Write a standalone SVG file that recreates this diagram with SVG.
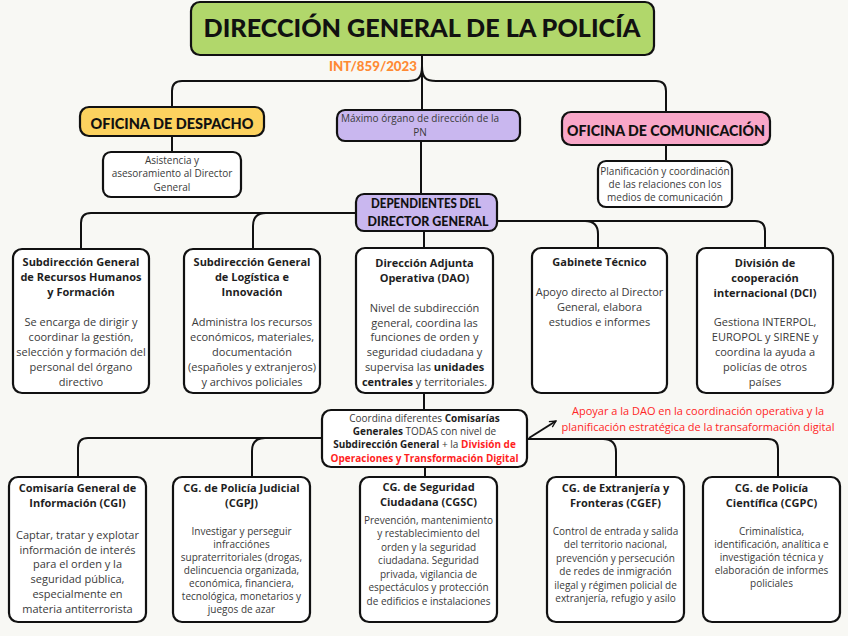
<svg xmlns="http://www.w3.org/2000/svg" width="848" height="636" viewBox="0 0 848 636">
<defs>
<marker id="arr" viewBox="0 0 10 10" refX="9" refY="5" markerWidth="8" markerHeight="8" markerUnits="userSpaceOnUse" orient="auto">
<path d="M1,1 L9,5 L1,9" fill="none" stroke="#111" stroke-width="1.6"/>
</marker>
</defs>
<style>
.box{stroke:#111;stroke-width:2.2}
.wb{fill:#fff;stroke:#111;stroke-width:2.2}
.con{fill:none;stroke:#111;stroke-width:2}
.hd{font-family:Lato,"Liberation Sans",sans-serif;font-weight:900;fill:#111;text-anchor:middle}
.t{font-family:"Open Sans","Noto Sans",sans-serif;font-weight:bold;font-size:11px;fill:#1e1e1e;text-anchor:middle}
.b{font-family:"Open Sans","Noto Sans",sans-serif;font-size:11px;fill:#3a3a3a;text-anchor:middle}
.s{font-family:"Open Sans","Noto Sans",sans-serif;font-size:10px;fill:#3a3a3a;text-anchor:middle}
.bold{font-weight:bold;fill:#1e1e1e}
.red{font-weight:bold;fill:#ff1f1f}
.ann{font-family:"Open Sans","Noto Sans",sans-serif;font-size:11px;fill:#ff2626;text-anchor:middle}
</style>
<rect width="848" height="636" fill="#f8f8f4"/>

<g id="connectors">
<path class="con" d="M422,55 V110"/>
<path class="con" d="M422,66 C422,78 418,81 408,81 H182 Q172,81 172,91 V107"/>
<path class="con" d="M422,66 C422,78 426,81 436,81 H656 Q666,81 666,91 V112"/>
<path class="con" d="M172,136 V152"/>
<path class="con" d="M666,145 V161"/>
<path class="con" d="M421,141 V194"/>
<path class="con" d="M356,213 H91 Q81,213 81,223 V249"/>
<path class="con" d="M266,213 Q253,213 253,226 V249"/>
<path class="con" d="M497,221 H755 Q765,221 765,231 V248"/>
<path class="con" d="M585,221 Q598,221 598,234 V248"/>
<path class="con" d="M424,231 V248"/>
<path class="con" d="M424,393 V410"/>
<path class="con" d="M322,438 H88 Q78,438 78,448 V477"/>
<path class="con" d="M265,438 Q252,438 252,451 V477"/>
<path class="con" d="M527,439 H768 Q778,439 778,449 V477"/>
<path class="con" d="M603,439 Q616,439 616,452 V477"/>
<path class="con" d="M425,467 V477"/>
<path class="con" d="M529,438 L556,421" marker-end="url(#arr)"/>
</g>

<g id="title">
<rect class="box" x="191" y="2" width="463" height="53" rx="9" fill="#b1d76b"/>
<text class="hd" x="422" y="37" font-size="25" textLength="437" lengthAdjust="spacingAndGlyphs">DIRECCIÓN GENERAL DE LA POLICÍA</text>
</g>
<g id="ref">
<text x="373" y="71" font-family="Lato,'Liberation Sans',sans-serif" font-weight="900" font-size="13" fill="#ff8a33" text-anchor="middle" textLength="88" lengthAdjust="spacingAndGlyphs">INT/859/2023</text>
</g>

<g id="despacho">
<rect class="box" x="80" y="107" width="184" height="29" rx="9" fill="#fcd25f"/>
<text class="hd" x="172" y="129" font-size="15.5" textLength="163" lengthAdjust="spacingAndGlyphs">OFICINA DE DESPACHO</text>
</g>
<g id="asistencia">
<rect class="wb" x="103" y="152" width="138" height="45" rx="8"/>
<text class="s"><tspan x="172" y="163.5">Asistencia y</tspan><tspan x="172" y="177">asesoramiento al Director</tspan><tspan x="172" y="190.5">General</tspan></text>
</g>

<g id="maximo">
<rect class="box" x="337" y="110" width="183" height="31" rx="8" fill="#c9b7ef"/>
<text class="s"><tspan x="420" y="122">Máximo órgano de dirección de la</tspan><tspan x="420" y="135.5">PN</tspan></text>
</g>

<g id="comunicacion">
<rect class="box" x="562" y="112" width="208" height="33" rx="9" fill="#f9a7c8"/>
<text class="hd" x="666" y="136" font-size="15.5" textLength="198" lengthAdjust="spacingAndGlyphs">OFICINA DE COMUNICACIÓN</text>
</g>
<g id="planificacion">
<rect class="wb" x="598" y="161" width="134" height="46" rx="8"/>
<text class="s"><tspan x="665" y="174.5">Planificación y coordinación</tspan><tspan x="665" y="188">de las relaciones con los</tspan><tspan x="665" y="201">medios de comunicación</tspan></text>
</g>

<g id="dependientes">
<rect class="box" x="356" y="194" width="141" height="37" rx="8" fill="#c9b7ef"/>
<text class="hd" font-size="13"><tspan x="426" y="207.5" textLength="110" lengthAdjust="spacingAndGlyphs">DEPENDIENTES DEL</tspan><tspan x="428" y="226" textLength="121" lengthAdjust="spacingAndGlyphs">DIRECTOR GENERAL</tspan></text>
</g>

<g id="sg-rrhh">
<rect class="wb" x="13" y="249" width="136" height="144" rx="9"/>
<text class="t"><tspan x="81" y="265.5">Subdirección General</tspan><tspan x="81" y="280.5">de Recursos Humanos</tspan><tspan x="81" y="295.5">y Formación</tspan></text>
<text class="b"><tspan x="81" y="326">Se encarga de dirigir y</tspan><tspan x="81" y="341">coordinar la gestión,</tspan><tspan x="81" y="356">selección y formación del</tspan><tspan x="81" y="371">personal del órgano</tspan><tspan x="81" y="386">directivo</tspan></text>
</g>

<g id="sg-logistica">
<rect class="wb" x="184" y="249" width="136" height="144" rx="9"/>
<text class="t"><tspan x="252" y="265.5">Subdirección General</tspan><tspan x="252" y="280.5">de Logística e</tspan><tspan x="252" y="295.5">Innovación</tspan></text>
<text class="b"><tspan x="252" y="326">Administra los recursos</tspan><tspan x="252" y="341">económicos, materiales,</tspan><tspan x="252" y="356">documentación</tspan><tspan x="252" y="371">(españoles y extranjeros)</tspan><tspan x="252" y="386">y archivos policiales</tspan></text>
</g>

<g id="dao">
<rect class="wb" x="356" y="248" width="137" height="145" rx="9"/>
<text class="t"><tspan x="424.5" y="267">Dirección Adjunta</tspan><tspan x="424.5" y="282">Operativa (DAO)</tspan></text>
<text class="b"><tspan x="424.5" y="312">Nivel de subdirección</tspan><tspan x="424.5" y="326.7">general, coordina las</tspan><tspan x="424.5" y="341.4">funciones de orden y</tspan><tspan x="424.5" y="356.1">seguridad ciudadana y</tspan><tspan x="424.5" y="370.8">supervisa las <tspan class="bold">unidades</tspan></tspan><tspan x="424.5" y="385.5"><tspan class="bold">centrales</tspan> y territoriales.</tspan></text>
</g>

<g id="gabinete">
<rect class="wb" x="532" y="248" width="135" height="145" rx="9"/>
<text class="t"><tspan x="599.5" y="265.5">Gabinete Técnico</tspan></text>
<text class="b"><tspan x="599.5" y="295.5">Apoyo directo al Director</tspan><tspan x="599.5" y="310.5">General, elabora</tspan><tspan x="599.5" y="325.5">estudios e informes</tspan></text>
</g>

<g id="dci">
<rect class="wb" x="697" y="248" width="136" height="145" rx="9"/>
<text class="t"><tspan x="765" y="267">División de</tspan><tspan x="765" y="282">cooperación</tspan><tspan x="765" y="297">internacional (DCI)</tspan></text>
<text class="b"><tspan x="765" y="325.5">Gestiona INTERPOL,</tspan><tspan x="765" y="340.5">EUROPOL y SIRENE y</tspan><tspan x="765" y="355.5">coordina la ayuda a</tspan><tspan x="765" y="370.5">policías de otros</tspan><tspan x="765" y="385.5">países</tspan></text>
</g>

<g id="coordina">
<rect class="wb" x="322" y="410" width="205" height="57" rx="9"/>
<text class="s"><tspan x="424.5" y="422">Coordina diferentes <tspan class="bold">Comisarías</tspan></tspan><tspan x="424.5" y="435"><tspan class="bold">Generales</tspan> TODAS con nivel de</tspan><tspan x="424.5" y="448"><tspan class="bold">Subdirección General</tspan> + la <tspan class="red">División de</tspan></tspan><tspan x="424.5" y="461.5" class="red">Operaciones y Transformación Digital</tspan></text>
</g>

<g id="nota-dotd">
<text class="ann"><tspan x="698" y="415">Apoyar a la DAO en la coordinación operativa y la</tspan><tspan x="698" y="431">planificación estratégica de la transaformación digital</tspan></text>
</g>

<g id="cgi">
<rect class="wb" x="9" y="477" width="137" height="145" rx="9"/>
<text class="t"><tspan x="77.5" y="492">Comisaría General de</tspan><tspan x="77.5" y="507">Información (CGI)</tspan></text>
<text class="b"><tspan x="77.5" y="539">Captar, tratar y explotar</tspan><tspan x="77.5" y="553.7">información de interés</tspan><tspan x="77.5" y="568.4">para el orden y la</tspan><tspan x="77.5" y="583.1">seguridad pública,</tspan><tspan x="77.5" y="597.8">especialmente en</tspan><tspan x="77.5" y="612.5">materia antiterrorista</tspan></text>
</g>

<g id="cgpj">
<rect class="wb" x="173" y="477" width="137" height="145" rx="9"/>
<text class="t"><tspan x="241.5" y="492">CG. de Policía Judicial</tspan><tspan x="241.5" y="507">(CGPJ)</tspan></text>
<text class="s"><tspan x="241.5" y="535">Investigar y perseguir</tspan><tspan x="241.5" y="548">infracciónes</tspan><tspan x="241.5" y="561">supraterritoriales (drogas,</tspan><tspan x="241.5" y="574">delincuencia organizada,</tspan><tspan x="241.5" y="587">económica, financiera,</tspan><tspan x="241.5" y="600">tecnológica, monetarios y</tspan><tspan x="241.5" y="613">juegos de azar</tspan></text>
</g>

<g id="cgsc">
<rect class="wb" x="360" y="477" width="137" height="145" rx="9"/>
<text class="t"><tspan x="428.5" y="491">CG. de Seguridad</tspan><tspan x="428.5" y="505.5">Ciudadana (CGSC)</tspan></text>
<text class="s"><tspan x="428.5" y="523.5">Prevención, mantenimiento</tspan><tspan x="428.5" y="537">y restablecimiento del</tspan><tspan x="428.5" y="550.5">orden y la seguridad</tspan><tspan x="428.5" y="564">ciudadana. Seguridad</tspan><tspan x="428.5" y="577.5">privada, vigilancia de</tspan><tspan x="428.5" y="591">espectáculos y protección</tspan><tspan x="428.5" y="604.5">de edificios e instalaciones</tspan></text>
</g>

<g id="cgef">
<rect class="wb" x="547" y="477" width="137" height="145" rx="9"/>
<text class="t"><tspan x="615.5" y="492">CG. de Extranjería y</tspan><tspan x="615.5" y="507">Fronteras (CGEF)</tspan></text>
<text class="s"><tspan x="615.5" y="534.5">Control de entrada y salida</tspan><tspan x="615.5" y="548">del territorio nacional,</tspan><tspan x="615.5" y="561.5">prevención y persecución</tspan><tspan x="615.5" y="575">de redes de inmigración</tspan><tspan x="615.5" y="588.5">ilegal y régimen policial de</tspan><tspan x="615.5" y="602">extranjería, refugio y asilo</tspan></text>
</g>

<g id="cgpc">
<rect class="wb" x="703" y="477" width="137" height="145" rx="9"/>
<text class="t"><tspan x="771.5" y="492">CG. de Policía</tspan><tspan x="771.5" y="507">Científica (CGPC)</tspan></text>
<text class="s"><tspan x="771.5" y="535">Criminalística,</tspan><tspan x="771.5" y="548">identificación, analítica e</tspan><tspan x="771.5" y="561">investigación técnica y</tspan><tspan x="771.5" y="574">elaboración de informes</tspan><tspan x="771.5" y="587">policiales</tspan></text>
</g>
</svg>
